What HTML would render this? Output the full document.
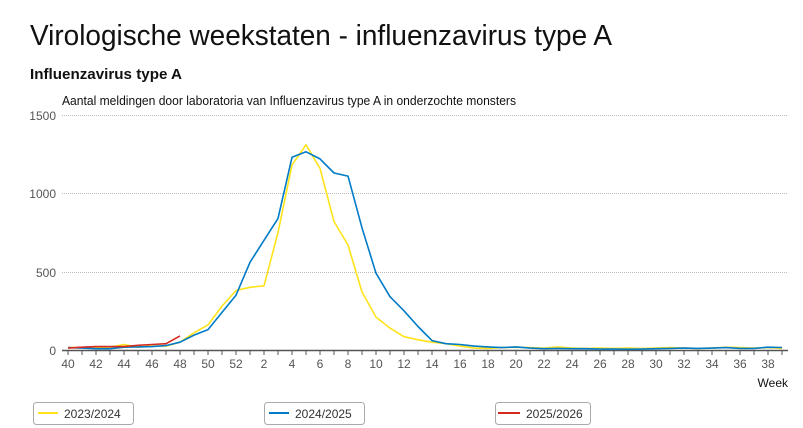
<!DOCTYPE html>
<html><head><meta charset="utf-8"><style>
html,body{margin:0;padding:0;background:#fff;}
svg{display:block;font-family:"Liberation Sans",sans-serif;}
</style></head><body>
<svg id="s" width="803" height="428" xmlns="http://www.w3.org/2000/svg">
<text x="30" y="45" font-size="29" fill="#111" textLength="582" lengthAdjust="spacingAndGlyphs">Virologische weekstaten - influenzavirus type A</text>
<text x="30" y="79" font-size="15" font-weight="bold" fill="#111" textLength="152" lengthAdjust="spacingAndGlyphs">Influenzavirus type A</text>
<text x="62" y="105" font-size="12.5" fill="#111" textLength="454" lengthAdjust="spacingAndGlyphs">Aantal meldingen door laboratoria van Influenzavirus type A in onderzochte monsters</text>
<g stroke="#bbb" stroke-dasharray="1,1" stroke-width="1">
<line x1="62" y1="115.5" x2="788" y2="115.5"/><line x1="62" y1="193.5" x2="788" y2="193.5"/><line x1="62" y1="272.5" x2="788" y2="272.5"/>
</g>
<g font-size="12" fill="#555" text-anchor="end">
<text x="56" y="120">1500</text><text x="56" y="198">1000</text><text x="56" y="277">500</text><text x="56" y="355">0</text>
</g>
<line x1="62" y1="350.5" x2="788" y2="350.5" stroke="#555" stroke-width="1.5"/>
<g id="ticks"></g>
<text x="788" y="387" font-size="12" fill="#111" text-anchor="end">Week</text>
<g id="lines" fill="none" stroke-width="1.6" stroke-linejoin="round"></g>
<g font-size="12" fill="#333">
<rect x="33.5" y="402.5" width="100" height="22" rx="3" fill="#fff" stroke="#aaa"/>
<line x1="38" y1="413" x2="58" y2="413" stroke="#ffe31a" stroke-width="2"/>
<text x="64" y="418">2023/2024</text>
<rect x="264.5" y="402.5" width="100" height="22" rx="3" fill="#fff" stroke="#aaa"/>
<line x1="269" y1="413" x2="289" y2="413" stroke="#007bc7" stroke-width="2"/>
<text x="295" y="418">2024/2025</text>
<rect x="495.5" y="402.5" width="95" height="22" rx="3" fill="#fff" stroke="#aaa"/>
<line x1="498" y1="413" x2="520" y2="413" stroke="#d52b1e" stroke-width="2"/>
<text x="526" y="418">2025/2026</text>
</g>
</svg>
<script>
var ns="http://www.w3.org/2000/svg";
function X(i){return 68+14*i;}
function Y(v){return 350-v*235/1500;}
var t=document.getElementById("ticks");
for(var i=0;i<=51;i++){
 var l=document.createElementNS(ns,"line");l.setAttribute("x1",X(i));l.setAttribute("x2",X(i));l.setAttribute("y1",351);l.setAttribute("y2",355);l.setAttribute("stroke","#555");t.appendChild(l);
 if(i%2==0){var w=i<=12?40+i:i-12;var tx=document.createElementNS(ns,"text");tx.setAttribute("x",X(i));tx.setAttribute("y",368);tx.setAttribute("font-size","12");tx.setAttribute("fill","#555");tx.setAttribute("text-anchor","middle");tx.textContent=w;t.appendChild(tx);}
}
var yel=[15,15,15,18,35,18,25,25,50,110,160,280,380,400,410,750,1180,1310,1160,820,670,370,210,140,85,65,50,40,25,12,10,15,18,15,12,20,12,10,12,10,12,10,12,15,12,10,12,18,15,12,15,10];
var blu=[15,12,8,8,18,20,22,28,50,95,130,240,350,560,700,840,1230,1265,1220,1130,1110,780,490,340,250,150,60,40,35,25,20,15,20,12,8,10,8,8,6,6,5,6,8,10,12,10,12,15,10,10,18,16];
var red=[12,18,22,22,22,30,35,40,90];
var g=document.getElementById("lines");
[[yel,"#ffe31a"],[blu,"#007bc7"],[red,"#d52b1e"]].forEach(function(s){
 var p=document.createElementNS(ns,"polyline");
 p.setAttribute("points",s[0].map(function(v,i){return X(i)+","+Y(v).toFixed(1);}).join(" "));
 p.setAttribute("stroke",s[1]);g.appendChild(p);
});
</script>
</body></html>
